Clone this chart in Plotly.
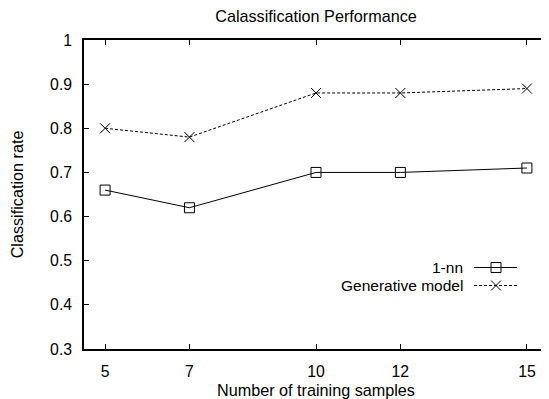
import plotly.graph_objects as go

samples = [5, 7, 10, 12, 15]
nn_rate = [0.66, 0.62, 0.70, 0.70, 0.71]
gen_rate = [0.80, 0.78, 0.88, 0.88, 0.89]
series_names = ["1-nn", "Generative model"]
y_ticks = [0.3, 0.4, 0.5, 0.6, 0.7, 0.8, 0.9, 1.0]
y_tick_text = ["0.3", "0.4", "0.5", "0.6", "0.7", "0.8", "0.9", "1"]

FONT = "Liberation Sans, Arial, Helvetica, sans-serif"
FS_TITLE = 16.2
FS_TICK = 15.8
FS_KEY = 15.5

W, H = 541, 391
ML, MR, MT, MB = 76, 1, 32, 50

fig = go.Figure()
fig.add_trace(go.Scatter(x=samples, y=nn_rate, mode="lines+markers", name=series_names[0],
                         line=dict(color="black", width=1),
                         marker=dict(symbol="square-open", size=10, color="black", line=dict(width=1)),
                         showlegend=False))
fig.add_trace(go.Scatter(x=samples, y=gen_rate, mode="lines+markers", name=series_names[1],
                         line=dict(color="black", width=1, dash="3px,2px"),
                         marker=dict(symbol="x-thin-open", size=10, color="black", line=dict(width=1, color="black")),
                         showlegend=False))

# manual gnuplot-style key (text left, sample right)
pw = W - ML - MR
ph = H - MT - MB
def px(xp):
    return (xp - 8 - ML) / pw
def py(yp):
    return 1 - (yp - 8 - MT) / ph

key_y = [py(267.5), py(285.5)]
key_dash = ["solid", "3px,2px"]
key_sym = ["square-open", "x-thin-open"]
for i, name in enumerate(series_names):
    fig.add_annotation(x=px(464), y=key_y[i], xref="paper", yref="paper", text=name,
                       showarrow=False, xanchor="right", yanchor="middle", borderpad=0,
                       font=dict(family=FONT, size=FS_KEY, color="black"))
    fig.add_shape(type="line", xref="paper", yref="paper", x0=px(474), x1=px(517),
                  y0=key_y[i], y1=key_y[i], line=dict(color="black", width=1, dash=key_dash[i]))
    fig.add_trace(go.Scatter(x=[px(496)], y=[key_y[i]], xaxis="x2", yaxis="y2", mode="markers",
                             marker=dict(symbol=key_sym[i], size=10, color="black", line=dict(width=1, color="black")),
                             showlegend=False, hoverinfo="skip"))

axis_common = dict(showline=True, linecolor="black", linewidth=1.5, mirror="ticks",
                   ticks="inside", ticklen=5, tickcolor="black", tickwidth=1,
                   showgrid=False, zeroline=False,
                   tickfont=dict(family=FONT, size=FS_TICK, color="black"))

fig.update_layout(
    width=W, height=H,
    margin=dict(l=ML, r=MR, t=MT, b=MB, autoexpand=False),
    plot_bgcolor="white", paper_bgcolor="white",
    font=dict(family=FONT, size=FS_TICK, color="black"),
    title=dict(text="Calassification Performance", x=0.5, xref="paper", xanchor="center",
               y=1 - 8 / H, yanchor="middle", font=dict(family=FONT, size=FS_TITLE, color="black")),
    xaxis=dict(range=[4.5, 15.5], tickvals=samples, ticktext=[str(s) for s in samples],
               title=dict(text="Number of training samples", standoff=9,
                          font=dict(family=FONT, size=FS_TITLE, color="black")),
               ticklabelstandoff=7, **axis_common),
    yaxis=dict(range=[0.3, 1.0], tickvals=y_ticks, ticktext=y_tick_text,
               title=dict(text="Classification rate", standoff=24,
                          font=dict(family=FONT, size=FS_TITLE, color="black")),
               ticklabelstandoff=7, **axis_common),
    xaxis2=dict(range=[0, 1], overlaying="x", visible=False, fixedrange=True),
    yaxis2=dict(range=[0, 1], overlaying="y", visible=False, fixedrange=True),
)

fig.write_html("out.html")
